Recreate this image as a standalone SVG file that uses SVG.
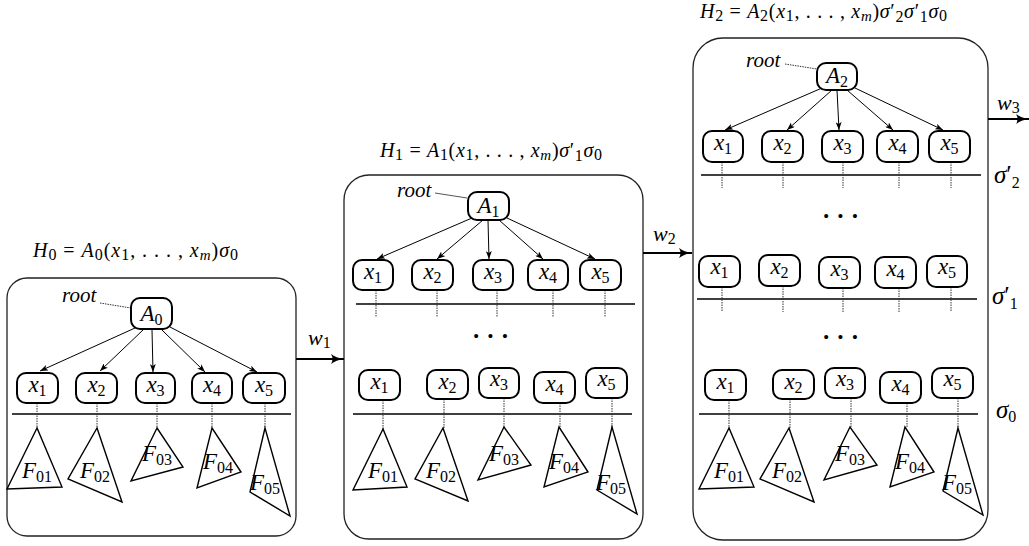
<svg xmlns="http://www.w3.org/2000/svg" width="1029" height="546" viewBox="0 0 1029 546" font-family="'Liberation Serif', 'DejaVu Serif', serif">
<style>
text{font-family:"Liberation Serif","DejaVu Serif",serif;fill:#000}
.pnl{fill:#fff;stroke:#222;stroke-width:1.3}
.nd{fill:#fff;stroke:#000;stroke-width:2}
.tri{fill:#fff;stroke:#000;stroke-width:1.4;stroke-linejoin:miter}
.e{stroke:#000;stroke-width:1;fill:none;marker-end:url(#ah)}
.dt{stroke:#333;stroke-width:1;stroke-dasharray:1.5 1;fill:none}
.rl{stroke:#555;stroke-width:1;fill:none}
.hl{stroke:#000;stroke-width:1.3}
.big{stroke:#000;stroke-width:2;fill:none;marker-end:url(#bh)}
.lb{font-size:23px;font-style:italic;text-anchor:middle}
.fl{font-size:23px;font-style:italic;text-anchor:middle}
.sb{font-size:16px;font-style:normal}
.sbi{font-size:15px;font-style:italic}
.up{font-style:normal}
.ttl{font-size:20px;font-style:italic}
.rt{font-size:21px;font-style:italic}
.sg{font-size:25px;font-style:italic}
.wl{font-size:22px;font-style:italic}
.dots{font-size:34px;letter-spacing:3px;text-anchor:middle}
</style>
<defs>
<marker id="ah" markerUnits="userSpaceOnUse" markerWidth="8" markerHeight="6" viewBox="0 0 8 6" refX="8" refY="3" orient="auto">
<path d="M0,0 L8,3 L0,6 L2,3 z" fill="#000"/>
</marker>
<marker id="bh" markerUnits="userSpaceOnUse" markerWidth="13" markerHeight="10" viewBox="0 0 13 10" refX="13" refY="5" orient="auto">
<path d="M0,0 Q5,4 13,5 Q5,6 0,10 Q3,5 0,0 z" fill="#000"/>
</marker>
</defs>

<!-- Panel 0 -->
<g id="panel0">
<rect class="pnl" x="7" y="278" width="289" height="258" rx="20"/>
<text class="ttl" x="33" y="257" textLength="205" lengthAdjust="spacing">H<tspan class="sb" dy="3">0</tspan><tspan class="up" dy="-3"> = </tspan>A<tspan class="sb" dy="3">0</tspan><tspan class="up" dy="-3">(</tspan>x<tspan class="sb" dy="3">1</tspan><tspan class="up" dy="-3">, . . . , </tspan>x<tspan class="sbi" dy="3">m</tspan><tspan class="up" dy="-3">)</tspan>σ<tspan class="sb" dy="3">0</tspan></text>
<text class="rt" x="62" y="302">root</text>
<line class="hl" x1="12" y1="414" x2="291" y2="414"/>
</g>

<!-- Panel 1 -->
<g id="panel1">
<rect class="pnl" x="344" y="175" width="299" height="364" rx="25"/>
<text class="ttl" x="380" y="157" textLength="222" lengthAdjust="spacing">H<tspan class="sb" dy="3">1</tspan><tspan class="up" dy="-3"> = </tspan>A<tspan class="sb" dy="3">1</tspan><tspan class="up" dy="-3">(</tspan>x<tspan class="sb" dy="3">1</tspan><tspan class="up" dy="-3">, . . . , </tspan>x<tspan class="sbi" dy="3">m</tspan><tspan class="up" dy="-3">)</tspan>σ<tspan class="up">′</tspan><tspan class="sb" dy="4">1</tspan><tspan dy="-4">σ</tspan><tspan class="sb" dy="3">0</tspan></text>
<text class="rt" x="397" y="197">root</text>
<line class="hl" x1="356" y1="304" x2="635" y2="304"/>
<text class="dots" x="492" y="347">···</text>
<line class="hl" x1="353" y1="414" x2="632" y2="414"/>
</g>

<!-- Panel 2 -->
<g id="panel2">
<rect class="pnl" x="693" y="38" width="295" height="502" rx="30"/>
<text class="ttl" x="700" y="18" textLength="247" lengthAdjust="spacing">H<tspan class="sb" dy="3">2</tspan><tspan class="up" dy="-3"> = </tspan>A<tspan class="sb" dy="3">2</tspan><tspan class="up" dy="-3">(</tspan>x<tspan class="sb" dy="3">1</tspan><tspan class="up" dy="-3">, . . . , </tspan>x<tspan class="sbi" dy="3">m</tspan><tspan class="up" dy="-3">)</tspan>σ<tspan class="up">′</tspan><tspan class="sb" dy="4">2</tspan><tspan dy="-4">σ</tspan><tspan class="up">′</tspan><tspan class="sb" dy="4">1</tspan><tspan dy="-4">σ</tspan><tspan class="sb" dy="3">0</tspan></text>
<text class="rt" x="746" y="67">root</text>
<line class="hl" x1="701" y1="175" x2="981" y2="175"/>
<text class="dots" x="842" y="227">···</text>
<line class="hl" x1="697" y1="299" x2="977" y2="299"/>
<text class="dots" x="842" y="348">···</text>
<line class="hl" x1="699" y1="414" x2="978" y2="414"/>
<text class="sg" x="994" y="183">σ<tspan class="up">′</tspan><tspan class="sb" dy="5">2</tspan></text>
<text class="sg" x="992" y="304">σ<tspan class="up">′</tspan><tspan class="sb" dy="5">1</tspan></text>
<text class="sg" x="996" y="418">σ<tspan class="sb" dy="4">0</tspan></text>
</g>

<!-- Connectors -->
<g id="connectors">
<path class="dt" d="M100,303 L131,308"/>
<path class="rl" d="M435,193 L467,198"/>
<path class="dt" d="M785,64 L817,69"/>
<line class="e" x1="135" y1="328" x2="40" y2="371"/>
<line class="e" x1="143" y1="330" x2="100" y2="371"/>
<line class="e" x1="152" y1="330" x2="153" y2="372"/>
<line class="e" x1="162" y1="330" x2="205" y2="372"/>
<line class="e" x1="170" y1="327" x2="257" y2="372"/>
<line class="e" x1="472" y1="218" x2="377" y2="259"/>
<line class="e" x1="483" y1="220" x2="437" y2="259"/>
<line class="e" x1="488" y1="220" x2="489" y2="259"/>
<line class="e" x1="499" y1="220" x2="543" y2="259"/>
<line class="e" x1="507" y1="218" x2="595" y2="259"/>
<line class="e" x1="822" y1="88" x2="725" y2="130"/>
<line class="e" x1="832" y1="90" x2="787" y2="130"/>
<line class="e" x1="837" y1="90" x2="839" y2="130"/>
<line class="e" x1="847" y1="90" x2="893" y2="130"/>
<line class="e" x1="855" y1="88" x2="943" y2="130"/>
<path class="dt" d="M37,403V428 M97,403V428 M157,403V428 M212,403V428 M265,403V428"/>
<path class="dt" d="M376,290V317 M437,290V317 M497,290V317 M553,290V317 M605,290V317"/>
<path class="dt" d="M383,400V429 M444,399V429 M504,398V429 M560,403V429 M612,398V429"/>
<path class="dt" d="M722,162V188 M783,162V188 M843,162V188 M899,162V188 M951,162V188"/>
<path class="dt" d="M722,287V312 M783,286V312 M843,288V312 M899,288V312 M951,287V312"/>
<path class="dt" d="M729,400V428 M790,399V428 M851,398V428 M907,403V428 M958,398V428"/>
<line class="big" x1="296" y1="359" x2="344" y2="359"/>
<line class="big" x1="643" y1="253" x2="692" y2="253"/>
<line class="big" x1="988" y1="119" x2="1029" y2="119"/>
<text class="wl" x="308" y="345">w<tspan class="sb" dy="3">1</tspan></text>
<text class="wl" x="653" y="241">w<tspan class="sb" dy="3">2</tspan></text>
<text class="wl" x="997" y="110">w<tspan class="sb" dy="3">3</tspan></text>
</g>

<!-- Panel 0 nodes -->
<g id="p0-A0"><rect class="nd" x="131" y="298" width="41" height="31" rx="9"/><text class="lb" x="151.5" y="321">A<tspan class="sb" dy="4">0</tspan></text></g>
<g id="p0-x1"><rect class="nd" x="17" y="373" width="41" height="30" rx="9"/><text class="lb" x="37.5" y="392">x<tspan class="sb" dy="4">1</tspan></text></g>
<g id="p0-x2"><rect class="nd" x="76" y="373" width="41" height="30" rx="9"/><text class="lb" x="96.5" y="392">x<tspan class="sb" dy="4">2</tspan></text></g>
<g id="p0-x3"><rect class="nd" x="136" y="373" width="39" height="30" rx="9"/><text class="lb" x="155.5" y="392">x<tspan class="sb" dy="4">3</tspan></text></g>
<g id="p0-x4"><rect class="nd" x="192" y="373" width="40" height="30" rx="9"/><text class="lb" x="212" y="392">x<tspan class="sb" dy="4">4</tspan></text></g>
<g id="p0-x5"><rect class="nd" x="243" y="373" width="42" height="30" rx="9"/><text class="lb" x="264" y="392">x<tspan class="sb" dy="4">5</tspan></text></g>
<g id="p0-F01"><polygon class="tri" points="37,428 7,489 62,487"/><text class="fl" x="37" y="478">F<tspan class="sb" dy="4">01</tspan></text></g>
<g id="p0-F02"><polygon class="tri" points="97,428 68,479 122,502"/><text class="fl" x="95" y="478">F<tspan class="sb" dy="4">02</tspan></text></g>
<g id="p0-F03"><polygon class="tri" points="157,428 131,481 183,467"/><text class="fl" x="157" y="461">F<tspan class="sb" dy="4">03</tspan></text></g>
<g id="p0-F04"><polygon class="tri" points="212,428 197,488 241,472"/><text class="fl" x="218" y="469">F<tspan class="sb" dy="4">04</tspan></text></g>
<g id="p0-F05"><polygon class="tri" points="265,428 250,492 290,516"/><text class="fl" x="265" y="490">F<tspan class="sb" dy="4">05</tspan></text></g>

<!-- Panel 1 nodes -->
<g id="p1-A1"><rect class="nd" x="468" y="192" width="41" height="28" rx="9"/><text class="lb" x="488.5" y="213">A<tspan class="sb" dy="4">1</tspan></text></g>
<g id="p1-r1-x1"><rect class="nd" x="353" y="260" width="40" height="30" rx="9"/><text class="lb" x="373" y="279">x<tspan class="sb" dy="4">1</tspan></text></g>
<g id="p1-r1-x2"><rect class="nd" x="412" y="260" width="41" height="30" rx="9"/><text class="lb" x="432.5" y="279">x<tspan class="sb" dy="4">2</tspan></text></g>
<g id="p1-r1-x3"><rect class="nd" x="473" y="260" width="40" height="30" rx="9"/><text class="lb" x="493" y="279">x<tspan class="sb" dy="4">3</tspan></text></g>
<g id="p1-r1-x4"><rect class="nd" x="528" y="260" width="40" height="30" rx="9"/><text class="lb" x="548" y="279">x<tspan class="sb" dy="4">4</tspan></text></g>
<g id="p1-r1-x5"><rect class="nd" x="580" y="260" width="41" height="30" rx="9"/><text class="lb" x="600.5" y="279">x<tspan class="sb" dy="4">5</tspan></text></g>
<g id="p1-r2-x1"><rect class="nd" x="359" y="370" width="41" height="30" rx="9"/><text class="lb" x="379.5" y="389">x<tspan class="sb" dy="4">1</tspan></text></g>
<g id="p1-r2-x2"><rect class="nd" x="427" y="370" width="41" height="29" rx="9"/><text class="lb" x="447.5" y="389">x<tspan class="sb" dy="4">2</tspan></text></g>
<g id="p1-r2-x3"><rect class="nd" x="479" y="368" width="40" height="30" rx="9"/><text class="lb" x="499" y="386">x<tspan class="sb" dy="4">3</tspan></text></g>
<g id="p1-r2-x4"><rect class="nd" x="534" y="372" width="41" height="31" rx="9"/><text class="lb" x="554.5" y="391">x<tspan class="sb" dy="4">4</tspan></text></g>
<g id="p1-r2-x5"><rect class="nd" x="586" y="368" width="41" height="30" rx="9"/><text class="lb" x="606.5" y="386">x<tspan class="sb" dy="4">5</tspan></text></g>
<g id="p1-F01"><polygon class="tri" points="383,429 353,490 407,487"/><text class="fl" x="383" y="478">F<tspan class="sb" dy="4">01</tspan></text></g>
<g id="p1-F02"><polygon class="tri" points="443,428 415,479 468,501"/><text class="fl" x="441" y="478">F<tspan class="sb" dy="4">02</tspan></text></g>
<g id="p1-F03"><polygon class="tri" points="504,427 478,480 531,465"/><text class="fl" x="504" y="461">F<tspan class="sb" dy="4">03</tspan></text></g>
<g id="p1-F04"><polygon class="tri" points="559,427 544,487 588,472"/><text class="fl" x="564" y="469">F<tspan class="sb" dy="4">04</tspan></text></g>
<g id="p1-F05"><polygon class="tri" points="612,427 597,490 637,514"/><text class="fl" x="611" y="490">F<tspan class="sb" dy="4">05</tspan></text></g>

<!-- Panel 2 nodes -->
<g id="p2-A2"><rect class="nd" x="817" y="63" width="40" height="27" rx="9"/><text class="lb" x="837" y="83">A<tspan class="sb" dy="4">2</tspan></text></g>
<g id="p2-r1-x1"><rect class="nd" x="703" y="131" width="40" height="31" rx="9"/><text class="lb" x="723" y="150">x<tspan class="sb" dy="4">1</tspan></text></g>
<g id="p2-r1-x2"><rect class="nd" x="762" y="131" width="41" height="31" rx="9"/><text class="lb" x="782.5" y="150">x<tspan class="sb" dy="4">2</tspan></text></g>
<g id="p2-r1-x3"><rect class="nd" x="822" y="131" width="41" height="31" rx="9"/><text class="lb" x="842.5" y="150">x<tspan class="sb" dy="4">3</tspan></text></g>
<g id="p2-r1-x4"><rect class="nd" x="877" y="131" width="41" height="31" rx="9"/><text class="lb" x="897.5" y="150">x<tspan class="sb" dy="4">4</tspan></text></g>
<g id="p2-r1-x5"><rect class="nd" x="929" y="131" width="41" height="31" rx="9"/><text class="lb" x="949.5" y="150">x<tspan class="sb" dy="4">5</tspan></text></g>
<g id="p2-r2-x1"><rect class="nd" x="699" y="256" width="41" height="31" rx="9"/><text class="lb" x="719.5" y="274">x<tspan class="sb" dy="4">1</tspan></text></g>
<g id="p2-r2-x2"><rect class="nd" x="759" y="255" width="41" height="31" rx="9"/><text class="lb" x="779.5" y="274">x<tspan class="sb" dy="4">2</tspan></text></g>
<g id="p2-r2-x3"><rect class="nd" x="819" y="257" width="41" height="31" rx="9"/><text class="lb" x="839.5" y="276">x<tspan class="sb" dy="4">3</tspan></text></g>
<g id="p2-r2-x4"><rect class="nd" x="875" y="257" width="41" height="31" rx="9"/><text class="lb" x="895.5" y="276">x<tspan class="sb" dy="4">4</tspan></text></g>
<g id="p2-r2-x5"><rect class="nd" x="927" y="256" width="40" height="31" rx="9"/><text class="lb" x="947" y="274">x<tspan class="sb" dy="4">5</tspan></text></g>
<g id="p2-r3-x1"><rect class="nd" x="705" y="370" width="41" height="30" rx="9"/><text class="lb" x="725.5" y="389">x<tspan class="sb" dy="4">1</tspan></text></g>
<g id="p2-r3-x2"><rect class="nd" x="773" y="370" width="41" height="29" rx="9"/><text class="lb" x="793.5" y="389">x<tspan class="sb" dy="4">2</tspan></text></g>
<g id="p2-r3-x3"><rect class="nd" x="825" y="368" width="40" height="30" rx="9"/><text class="lb" x="845" y="386">x<tspan class="sb" dy="4">3</tspan></text></g>
<g id="p2-r3-x4"><rect class="nd" x="880" y="372" width="41" height="31" rx="9"/><text class="lb" x="900.5" y="391">x<tspan class="sb" dy="4">4</tspan></text></g>
<g id="p2-r3-x5"><rect class="nd" x="932" y="368" width="41" height="30" rx="9"/><text class="lb" x="952.5" y="386">x<tspan class="sb" dy="4">5</tspan></text></g>
<g id="p2-F01"><polygon class="tri" points="729,428 699,489 754,487"/><text class="fl" x="729" y="478">F<tspan class="sb" dy="4">01</tspan></text></g>
<g id="p2-F02"><polygon class="tri" points="789,428 760,479 814,502"/><text class="fl" x="787" y="478">F<tspan class="sb" dy="4">02</tspan></text></g>
<g id="p2-F03"><polygon class="tri" points="850,427 824,480 877,465"/><text class="fl" x="850" y="461">F<tspan class="sb" dy="4">03</tspan></text></g>
<g id="p2-F04"><polygon class="tri" points="905,427 890,487 934,472"/><text class="fl" x="910" y="469">F<tspan class="sb" dy="4">04</tspan></text></g>
<g id="p2-F05"><polygon class="tri" points="958,428 943,491 983,515"/><text class="fl" x="957" y="490">F<tspan class="sb" dy="4">05</tspan></text></g>
</svg>
